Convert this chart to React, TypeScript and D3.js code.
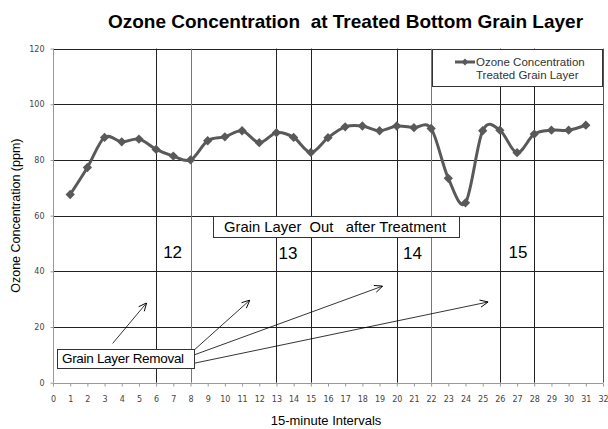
import { useRef, useEffect } from "react";
import * as d3 from "d3";

const intervals = [1, 2, 3, 4, 5, 6, 7, 8, 9, 10, 11, 12, 13, 14, 15, 16, 17, 18, 19, 20, 21, 22, 23, 24, 25, 26, 27, 28, 29, 30, 31];
const ozone = [67.6, 77.3, 88.1, 86.5, 87.5, 83.8, 81.4, 80, 86.9, 88.3, 90.5, 86.2, 89.8, 88.1, 82.7, 88, 91.9, 92.2, 90.5, 92.2, 91.6, 91.3, 73.4, 64.6, 90.5, 90.7, 82.6, 89.3, 90.7, 90.7, 92.5];

const yTicks = [0, 20, 40, 60, 80, 100, 120];
const xTicks = d3.range(0, 33);

// interval boundaries where a grain layer was taken out
const removalLines = [6, 8, 13, 15, 20, 22, 26, 28];
const layerLabels = [
  { text: "12", x: 6.96, y: 47 },
  { text: "13", x: 13.67, y: 46.5 },
  { text: "14", x: 20.92, y: 46.5 },
  { text: "15", x: 27.05, y: 46.8 },
];

// arrows from the "Grain Layer Removal" box, in data units
const arrows = [
  { x1: 3.47, y1: 14.1, x2: 5.45, y2: 28.7 },
  { x1: 8.26, y1: 12.0, x2: 11.46, y2: 29.7 },
  { x1: 8.22, y1: 10.0, x2: 19.18, y2: 34.7 },
  { x1: 8.22, y1: 7.0, x2: 25.32, y2: 29.0 },
];

const FONT = "'Liberation Sans', Arial, sans-serif";
const LINE = "#595959";

export default function App() {
  const svgRef = useRef<SVGSVGElement>(null);

  useEffect(() => {
    if (!svgRef.current) return;
    const svg = d3.select(svgRef.current);
    svg.selectAll("*").remove();

    const x = d3.scaleLinear().domain([0, 32]).range([53, 603]);
    const y = d3.scaleLinear().domain([0, 120]).range([382.7, 48.6]);

    svg.append("rect").attr("width", 608).attr("height", 429).attr("fill", "#fff");

    // Title
    svg.append("text")
      .attr("x", 345.5)
      .attr("y", 28)
      .attr("text-anchor", "middle")
      .attr("font-family", FONT)
      .attr("font-size", "19px")
      .attr("font-weight", "bold")
      .attr("fill", "#000")
      .style("white-space", "pre")
      .text("Ozone Concentration  at Treated Bottom Grain Layer");

    // Horizontal gridlines
    svg.append("g")
      .selectAll("line")
      .data(yTicks.filter((d) => d > 0))
      .join("line")
      .attr("x1", x(0))
      .attr("x2", x(32))
      .attr("y1", (d) => Math.round(y(d)) + 0.5)
      .attr("y2", (d) => Math.round(y(d)) + 0.5)
      .attr("stroke", "#222")
      .attr("stroke-width", 1);

    // Vertical removal lines
    svg.append("g")
      .selectAll("line")
      .data(removalLines)
      .join("line")
      .attr("x1", (d) => Math.round(x(d)) + 0.5)
      .attr("x2", (d) => Math.round(x(d)) + 0.5)
      .attr("y1", y(120))
      .attr("y2", y(0))
      .attr("stroke", (d) => (d === 8 || d === 22 ? "#777" : "#222"))
      .attr("stroke-width", 1);

    // right edge
    svg.append("line")
      .attr("x1", Math.round(x(32)) + 0.5)
      .attr("x2", Math.round(x(32)) + 0.5)
      .attr("y1", y(120))
      .attr("y2", y(0))
      .attr("stroke", "#555");

    // X axis
    svg.append("g")
      .attr("transform", `translate(0,${Math.round(y(0)) + 0.5})`)
      .call(d3.axisBottom(x).tickValues(xTicks).tickSize(3).tickPadding(10).tickFormat((d) => `${d}`))
      .call((g) => g.select(".domain").attr("stroke", "#999").attr("d", `M${x(0)},0H${x(32)}`))
      .call((g) => g.selectAll(".tick line").attr("stroke", "#999"))
      .call((g) => g.selectAll(".tick text").attr("fill", "#444").attr("font-size", "8px").attr("font-family", "'DejaVu Sans', sans-serif"));

    // Y axis
    svg.append("g")
      .attr("transform", `translate(${Math.round(x(0)) + 0.5},0)`)
      .call(d3.axisLeft(y).tickValues(yTicks).tickSize(3).tickPadding(6).tickFormat((d) => `${d}`))
      .call((g) => g.select(".domain").attr("stroke", "#999").attr("d", `M0,${y(120)}V${y(0)}`))
      .call((g) => g.selectAll(".tick line").attr("stroke", "#999"))
      .call((g) => g.selectAll(".tick text").attr("fill", "#444").attr("font-size", "8px").attr("font-family", "'DejaVu Sans', sans-serif"));

    // Axis titles
    svg.append("text")
      .attr("x", 326)
      .attr("y", 425)
      .attr("text-anchor", "middle")
      .attr("font-family", FONT)
      .attr("font-size", "13px")
      .text("15-minute Intervals");

    svg.append("text")
      .attr("transform", `translate(20,${y(60)}) rotate(-90)`)
      .attr("text-anchor", "middle")
      .attr("font-family", FONT)
      .attr("font-size", "12.5px")
      .text("Ozone Concentration (ppm)");

    // Layer numbers
    svg.append("g")
      .selectAll("text")
      .data(layerLabels)
      .join("text")
      .attr("x", (d) => x(d.x))
      .attr("y", (d) => y(d.y))
      .attr("dy", "0.35em")
      .attr("text-anchor", "middle")
      .attr("font-family", FONT)
      .attr("font-size", "17px")
      .text((d) => d.text);

    // Annotation box: treatment
    svg.append("rect")
      .attr("x", Math.round(x(9.31)) + 0.5)
      .attr("y", Math.round(y(59.9)) + 0.5)
      .attr("width", Math.round(x(23.62) - x(9.31)))
      .attr("height", Math.round(y(52.4) - y(59.9)))
      .attr("fill", "#fff")
      .attr("stroke", "#333");
    svg.append("text")
      .attr("x", x(9.31) + 11)
      .attr("y", y(56.15))
      .attr("dy", "0.35em")
      .attr("font-family", FONT)
      .attr("font-size", "14.8px")
      .style("white-space", "pre")
      .text("Grain Layer  Out   after Treatment");

    // Arrows
    svg.append("defs")
      .append("marker")
      .attr("id", "arrowhead")
      .attr("viewBox", "0 0 10 10")
      .attr("refX", 10)
      .attr("refY", 5)
      .attr("markerWidth", 9)
      .attr("markerHeight", 9)
      .attr("markerUnits", "userSpaceOnUse")
      .attr("orient", "auto")
      .append("path")
      .attr("d", "M1,1L10,5L1,9")
      .attr("fill", "none")
      .attr("stroke", "#000")
      .attr("stroke-width", 1);

    svg.append("g")
      .selectAll("line")
      .data(arrows)
      .join("line")
      .attr("x1", (d) => x(d.x1))
      .attr("y1", (d) => y(d.y1))
      .attr("x2", (d) => x(d.x2))
      .attr("y2", (d) => y(d.y2))
      .attr("stroke", "#000")
      .attr("stroke-width", 0.8)
      .attr("marker-end", "url(#arrowhead)");

    // Annotation box: removal
    svg.append("rect")
      .attr("x", Math.round(x(0.23)) + 0.5)
      .attr("y", Math.round(y(12.1)) + 0.5)
      .attr("width", Math.round(x(8.21) - x(0.23)))
      .attr("height", Math.round(y(5.3) - y(12.1)))
      .attr("fill", "#fff")
      .attr("stroke", "#333");
    svg.append("text")
      .attr("x", x(0.23) + 5)
      .attr("y", y(8.7))
      .attr("dy", "0.35em")
      .attr("font-family", FONT)
      .attr("font-size", "13.5px")
      .attr("letter-spacing", "-0.3px")
      .text("Grain Layer Removal");

    // Data line
    const line = d3.line<number>()
      .x((_, i) => x(intervals[i]))
      .y((d) => y(d))
      .curve(d3.curveCatmullRom.alpha(0));

    svg.append("path")
      .datum(ozone)
      .attr("d", line)
      .attr("fill", "none")
      .attr("stroke", LINE)
      .attr("stroke-width", 3)
      .attr("stroke-linejoin", "round");

    const diamond = d3.symbol().type(d3.symbolDiamond2).size(55);
    svg.append("g")
      .selectAll("path")
      .data(ozone)
      .join("path")
      .attr("transform", (d, i) => `translate(${x(intervals[i])},${y(d)})`)
      .attr("d", diamond)
      .attr("fill", LINE);

    // Legend
    const lg = svg.append("g");
    lg.append("rect")
      .attr("x", 432.5)
      .attr("y", 49.5)
      .attr("width", 170)
      .attr("height", 37)
      .attr("fill", "#fff")
      .attr("stroke", "#333");
    lg.append("line")
      .attr("x1", 455)
      .attr("x2", 475)
      .attr("y1", 62)
      .attr("y2", 62)
      .attr("stroke", LINE)
      .attr("stroke-width", 3);
    lg.append("path")
      .attr("transform", "translate(465,62)")
      .attr("d", d3.symbol().type(d3.symbolDiamond2).size(30))
      .attr("fill", LINE);
    lg.append("text")
      .attr("x", 476)
      .attr("y", 62)
      .attr("dy", "0.35em")
      .attr("font-family", FONT)
      .attr("font-size", "11.5px")
      .attr("fill", "#333")
      .text("Ozone Concentration");
    lg.append("text")
      .attr("x", 476)
      .attr("y", 75)
      .attr("dy", "0.35em")
      .attr("font-family", FONT)
      .attr("font-size", "11.5px")
      .attr("fill", "#333")
      .text("Treated Grain Layer");
  }, []);

  return (
    <svg
      ref={svgRef}
      width={608}
      height={429}
      style={{ position: "absolute", left: 0, top: 0, display: "block" }}
    />
  );
}
